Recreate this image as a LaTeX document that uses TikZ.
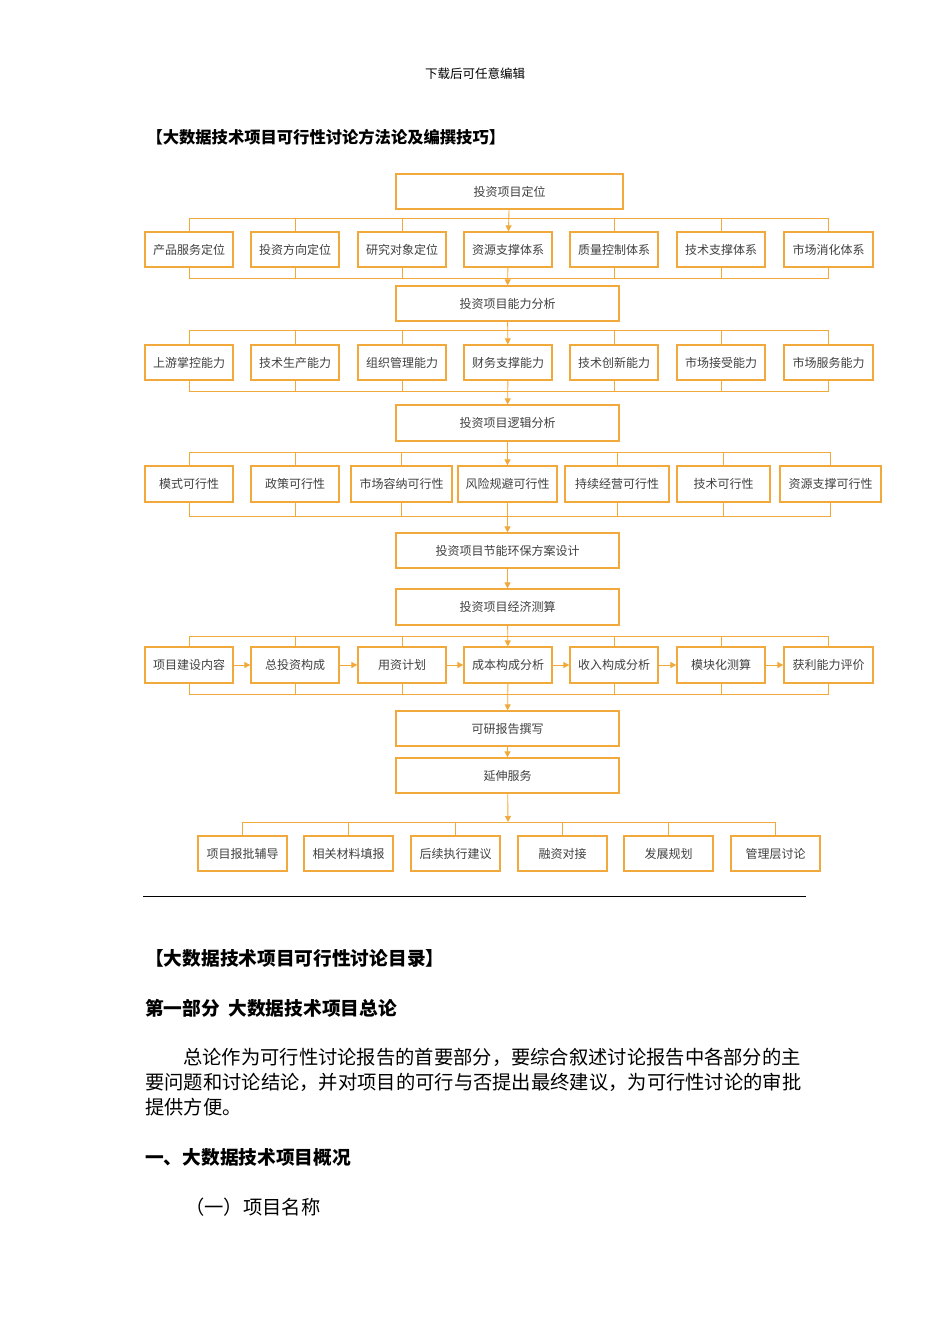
\documentclass[tikz,border=0pt]{standalone}
\usepackage{fontspec}
\setmainfont{Noto Sans CJK SC}
\usetikzlibrary{arrows.meta}
\definecolor{org}{HTML}{F2A93B}
\tikzset{
 bx/.style={draw=org,line width=1.3pt,fill=white,inner sep=0pt,font=\fontsize{12}{14}\selectfont\color{black!75}},
 ln/.style={draw=org,line width=0.9pt},
 ar/.style={draw=org,line width=0.9pt,-{Triangle[length=6pt,width=6pt]}},
}
\newcommand{\bxat}[6]{\node[bx,minimum width=#3pt-#2pt,minimum height=#5pt-#4pt] (#1) at ({(#2+#3)/2},{(#4+#5)/2}) {#6};}
\begin{document}
\begin{tikzpicture}[x=1pt,y=-1pt]
\useasboundingbox (0,0) rectangle (950,1344);
\node[font=\fontsize{12.5}{14}\selectfont] (hd) at (475,74) {下载后可任意编辑};
\node[anchor=west,font=\fontsize{16.3}{18}\selectfont\bfseries] (t1) at (143,137) {【大数据技术项目可行性讨论方法论及编撰技巧】};
% central boxes
\bxat{c1}{396}{623}{174}{209}{投资项目定位}
\bxat{c2}{396}{619}{286}{321}{投资项目能力分析}
\bxat{c3}{396}{619}{405}{441}{投资项目逻辑分析}
\bxat{c4}{396}{619}{533}{568}{投资项目节能环保方案设计}
\bxat{c5}{396}{619}{589}{625}{投资项目经济测算}
\bxat{c6}{396}{619}{711}{746}{可研报告撰写}
\bxat{c7}{396}{619}{758}{793}{延伸服务}
% row 1
\def\ya{232}\def\yb{267}
\bxat{a1}{145}{233}{\ya}{\yb}{产品服务定位}
\bxat{a2}{251}{339}{\ya}{\yb}{投资方向定位}
\bxat{a3}{358}{446}{\ya}{\yb}{研究对象定位}
\bxat{a4}{464}{552}{\ya}{\yb}{资源支撑体系}
\bxat{a5}{570}{658}{\ya}{\yb}{质量控制体系}
\bxat{a6}{677}{765}{\ya}{\yb}{技术支撑体系}
\bxat{a7}{784}{873}{\ya}{\yb}{市场消化体系}
% row 2
\def\ya{345}\def\yb{380}
\bxat{b1}{145}{233}{\ya}{\yb}{上游掌控能力}
\bxat{b2}{251}{339}{\ya}{\yb}{技术生产能力}
\bxat{b3}{358}{446}{\ya}{\yb}{组织管理能力}
\bxat{b4}{464}{552}{\ya}{\yb}{财务支撑能力}
\bxat{b5}{570}{658}{\ya}{\yb}{技术创新能力}
\bxat{b6}{677}{765}{\ya}{\yb}{市场接受能力}
\bxat{b7}{784}{873}{\ya}{\yb}{市场服务能力}
% row 3
\def\ya{466}\def\yb{502}
\bxat{d1}{145}{233}{\ya}{\yb}{模式可行性}
\bxat{d2}{251}{339}{\ya}{\yb}{政策可行性}
\bxat{d3}{351}{452}{\ya}{\yb}{市场容纳可行性}
\bxat{d4}{458}{557}{\ya}{\yb}{风险规避可行性}
\bxat{d5}{565}{669}{\ya}{\yb}{持续经营可行性}
\bxat{d6}{677}{770}{\ya}{\yb}{技术可行性}
\bxat{d7}{780}{881}{\ya}{\yb}{资源支撑可行性}
% row 4
\def\ya{647}\def\yb{683}
\bxat{e1}{145}{233}{\ya}{\yb}{项目建设内容}
\bxat{e2}{251}{339}{\ya}{\yb}{总投资构成}
\bxat{e3}{358}{446}{\ya}{\yb}{用资计划}
\bxat{e4}{464}{552}{\ya}{\yb}{成本构成分析}
\bxat{e5}{570}{658}{\ya}{\yb}{收入构成分析}
\bxat{e6}{677}{765}{\ya}{\yb}{模块化测算}
\bxat{e7}{784}{873}{\ya}{\yb}{获利能力评价}
% row 5
\def\ya{836}\def\yb{871}
\bxat{f1}{198}{287}{\ya}{\yb}{项目报批辅导}
\bxat{f2}{304}{393}{\ya}{\yb}{相关材料填报}
\bxat{f3}{411}{500}{\ya}{\yb}{后续执行建议}
\bxat{f4}{518}{607}{\ya}{\yb}{融资对接}
\bxat{f5}{624}{713}{\ya}{\yb}{发展规划}
\bxat{f6}{731}{820}{\ya}{\yb}{管理层讨论}
% brackets
\foreach \r/\t/\b in {a/218/278,b/330/391,d/452/516,e/636/694}{
  \draw[ln] (\r1.north) -- (\r1.north |- 0,\t) -- (\r7.north |- 0,\t) -- (\r7.north);
  \draw[ln] (\r1.south) -- (\r1.south |- 0,\b) -- (\r7.south |- 0,\b) -- (\r7.south);
  \foreach \i in {2,3,5,6}{
    \draw[ln] (\r\i.north) -- (\r\i.north |- 0,\t);
    \draw[ln] (\r\i.south) -- (\r\i.south |- 0,\b);
  }
}
\draw[ar] (c1) -- (a4);
\draw[ar] (a4) -- (c2);
\draw[ar] (c2) -- (b4);
\draw[ar] (b4) -- (c3);
\draw[ar] (c3) -- (d4);
\draw[ar] (d4) -- (c4);
\draw[ar] (c4) -- (c5);
\draw[ar] (c5) -- (e4);
\draw[ar] (e4) -- (c6);
\draw[ar] (c6) -- (c7);
\foreach \i/\j in {1/2,2/3,3/4,4/5,5/6,6/7}{\draw[ar] (e\i) -- (e\j);}
\coordinate (fb) at (508,822);
\draw[ar] (c7) -- (fb);
\draw[ln] (f1.north) -- (f1.north |- fb) -- (f6.north |- fb) -- (f6.north);
\foreach \i in {2,3,4,5}{\draw[ln] (f\i.north) -- (f\i.north |- fb);}
% rule
\coordinate (r1) at (143,896); \coordinate (r2) at (806,896);
\draw[line width=0.8pt] (r1) -- (r2);
% text
\tikzset{tx/.style={anchor=west,inner sep=0pt,font=\fontsize{19.3}{22}\selectfont}}
\node[tx,font=\fontsize{18.7}{21}\selectfont\bfseries] (h2) at (145,958) {【大数据技术项目可行性讨论目录】};
\node[tx,font=\fontsize{18.7}{21}\selectfont\bfseries] (h3) at (145,1008) {第一部分\ \ 大数据技术项目总论};
\node[tx] (p1) at (183,1057) {总论作为可行性讨论报告的首要部分，要综合叙述讨论报告中各部分的主};
\node[tx] (p2) at (145,1082) {要问题和讨论结论，并对项目的可行与否提出最终建议，为可行性讨论的审批};
\node[tx] (p3) at (145,1107) {提供方便。};
\node[tx,font=\fontsize{18.7}{21}\selectfont\bfseries] (h4) at (145,1157) {一、大数据技术项目概况};
\node[tx] (p4) at (185,1207) {（一）项目名称};
\end{tikzpicture}
\end{document}
